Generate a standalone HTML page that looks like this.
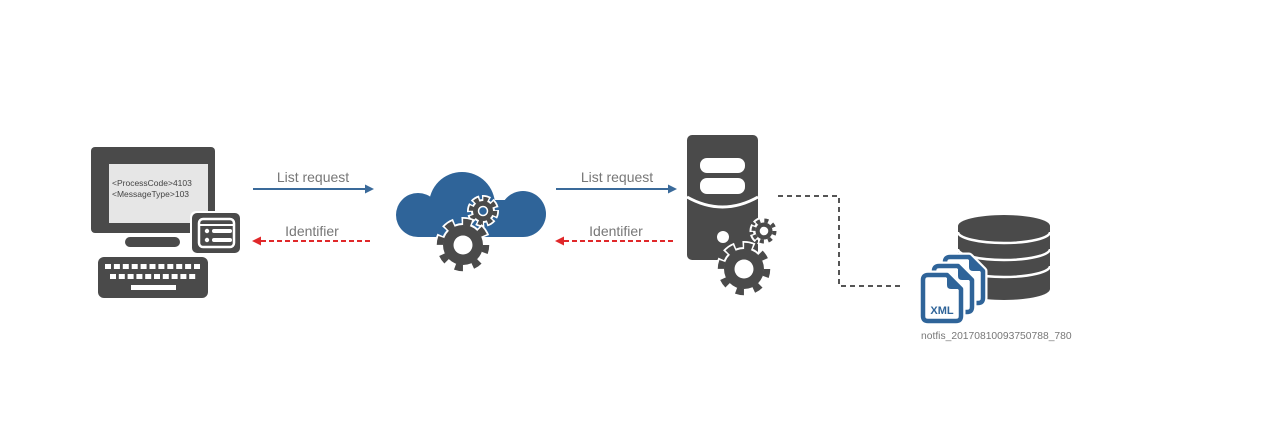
<!DOCTYPE html>
<html>
<head>
<meta charset="utf-8">
<style>
  html,body{margin:0;padding:0;background:#fff;}
  body{width:1280px;height:434px;overflow:hidden;position:relative;}
  svg{position:absolute;left:0;top:0;}
  text{font-family:"Liberation Sans",sans-serif;}
</style>
</head>
<body>
<svg width="1280" height="434" viewBox="0 0 1280 434" xmlns="http://www.w3.org/2000/svg">
  <!-- ============ MONITOR ============ -->
  <rect x="91" y="147" width="124" height="86" rx="4" fill="#4a4a4a"/>
  <rect x="109" y="164" width="99" height="59" fill="#e6e6e6"/>
  <text x="112" y="186" font-size="8.5" fill="#444">&lt;ProcessCode&gt;4103</text>
  <text x="112" y="197" font-size="8.5" fill="#444">&lt;MessageType&gt;103</text>
  <rect x="125" y="237" width="55" height="10" rx="5" fill="#4a4a4a"/>
  <!-- keyboard -->
  <rect x="98" y="257" width="110" height="41" rx="6" fill="#4a4a4a"/>
  <g fill="#fff">
    <rect x="105" y="264" width="6" height="5"/>
    <rect x="113.9" y="264" width="6" height="5"/>
    <rect x="122.8" y="264" width="6" height="5"/>
    <rect x="131.7" y="264" width="6" height="5"/>
    <rect x="140.6" y="264" width="6" height="5"/>
    <rect x="149.5" y="264" width="6" height="5"/>
    <rect x="158.4" y="264" width="6" height="5"/>
    <rect x="167.3" y="264" width="6" height="5"/>
    <rect x="176.2" y="264" width="6" height="5"/>
    <rect x="185.1" y="264" width="6" height="5"/>
    <rect x="194" y="264" width="6" height="5"/>
    <rect x="110" y="274" width="6" height="5"/>
    <rect x="118.8" y="274" width="6" height="5"/>
    <rect x="127.6" y="274" width="6" height="5"/>
    <rect x="136.4" y="274" width="6" height="5"/>
    <rect x="145.2" y="274" width="6" height="5"/>
    <rect x="154" y="274" width="6" height="5"/>
    <rect x="162.8" y="274" width="6" height="5"/>
    <rect x="171.6" y="274" width="6" height="5"/>
    <rect x="180.4" y="274" width="6" height="5"/>
    <rect x="189.2" y="274" width="6" height="5"/>
    <rect x="131" y="285" width="45" height="5"/>
  </g>
  <!-- card overlay -->
  <rect x="190" y="211" width="52" height="44" rx="6" fill="#fff"/>
  <rect x="192" y="213" width="48" height="40" rx="5" fill="#4a4a4a"/>
  <rect x="199" y="219" width="35" height="28" rx="4" fill="none" stroke="#fff" stroke-width="2.5"/>
  <line x1="199" y1="225" x2="234" y2="225" stroke="#fff" stroke-width="2"/>
  <circle cx="207" cy="231" r="2.2" fill="#fff"/>
  <circle cx="207" cy="240" r="2.2" fill="#fff"/>
  <rect x="212" y="229" width="20" height="4" rx="2" fill="#fff"/>
  <rect x="212" y="238" width="20" height="4" rx="2" fill="#fff"/>

  <!-- ============ ARROWS 1 ============ -->
  <text x="313" y="182" font-size="14" fill="#777" text-anchor="middle">List request</text>
  <line x1="253" y1="189" x2="366" y2="189" stroke="#3a6a9a" stroke-width="2"/>
  <polygon points="374,189 365,184.5 365,193.5" fill="#3a6a9a"/>
  <text x="312" y="236" font-size="14" fill="#777" text-anchor="middle">Identifier</text>
  <line x1="261" y1="241" x2="373" y2="241" stroke="#e0282a" stroke-width="2" stroke-dasharray="5 3"/>
  <polygon points="252,241 261,236.5 261,245.5" fill="#e0282a"/>

  <!-- ============ CLOUD ============ -->
  <g fill="#2f6499">
    <circle cx="462" cy="205" r="33"/>
    <circle cx="418" cy="215" r="22"/>
    <circle cx="523" cy="214" r="23"/>
    <rect x="418" y="200" width="105" height="37"/>
  </g>
  <!-- small cloud gear -->
  <g transform="translate(483,211)">
    <circle r="12" fill="#fff"/>
    <circle r="12" fill="none" stroke="#fff" stroke-width="8" stroke-dasharray="7.2 2.225" stroke-dashoffset="1.25"/>
    <circle r="10" fill="#4a4a4a"/>
    <circle r="12" fill="none" stroke="#4a4a4a" stroke-width="4.5" stroke-dasharray="4.7 4.725"/>
    <circle r="4.5" fill="#2f6499" stroke="#fff" stroke-width="1.5"/>
  </g>
  <!-- large cloud gear -->
  <g transform="translate(463,245)">
    <circle r="22" fill="#fff"/>
    <circle r="23" fill="none" stroke="#fff" stroke-width="10" stroke-dasharray="11 7.06" stroke-dashoffset="1.5"/>
    <circle r="20" fill="#4a4a4a"/>
    <circle r="23" fill="none" stroke="#4a4a4a" stroke-width="6.5" stroke-dasharray="8 10.06"/>
    <circle r="9.5" fill="#fff"/>
  </g>

  <!-- ============ ARROWS 2 ============ -->
  <text x="617" y="182" font-size="14" fill="#777" text-anchor="middle">List request</text>
  <line x1="556" y1="189" x2="669" y2="189" stroke="#3a6a9a" stroke-width="2"/>
  <polygon points="677,189 668,184.5 668,193.5" fill="#3a6a9a"/>
  <text x="616" y="236" font-size="14" fill="#777" text-anchor="middle">Identifier</text>
  <line x1="564" y1="241" x2="675" y2="241" stroke="#e0282a" stroke-width="2" stroke-dasharray="5 3"/>
  <polygon points="555,241 564,236.5 564,245.5" fill="#e0282a"/>

  <!-- ============ SERVER ============ -->
  <rect x="687" y="135" width="71" height="125" rx="5" fill="#4a4a4a"/>
  <rect x="700" y="158" width="45" height="15" rx="7" fill="#fff"/>
  <rect x="700" y="178" width="45" height="16" rx="7" fill="#fff"/>
  <path d="M687,197 Q722.5,217 758,197" fill="none" stroke="#fff" stroke-width="3"/>
  <circle cx="723" cy="237" r="6" fill="#fff"/>
  <!-- small server gear -->
  <g transform="translate(764,231)">
    <circle r="11" fill="#fff"/>
    <circle r="10.5" fill="none" stroke="#fff" stroke-width="8" stroke-dasharray="6.2 2.05" stroke-dashoffset="1.1"/>
    <circle r="8.5" fill="#4a4a4a"/>
    <circle r="10.5" fill="none" stroke="#4a4a4a" stroke-width="4" stroke-dasharray="4 4.25"/>
    <circle r="4.3" fill="#fff"/>
  </g>
  <!-- large server gear -->
  <g transform="translate(744,269)">
    <circle r="22" fill="#fff"/>
    <circle r="23" fill="none" stroke="#fff" stroke-width="10" stroke-dasharray="11 7.06" stroke-dashoffset="1.5"/>
    <circle r="20" fill="#4a4a4a"/>
    <circle r="23" fill="none" stroke="#4a4a4a" stroke-width="6.5" stroke-dasharray="8 10.06"/>
    <circle r="9.5" fill="#fff"/>
  </g>

  <!-- ============ DASHED CONNECTOR ============ -->
  <path d="M778,196 H839 V286 H900" fill="none" stroke="#555" stroke-width="2" stroke-dasharray="5 4"/>

  <!-- ============ DATABASE ============ -->
  <path d="M958,226 A46,11 0 0 1 1050,226 V289 A46,11 0 0 1 958,289 Z" fill="#4a4a4a"/>
  <path d="M958,232 A46,11 0 0 0 1050,232" fill="none" stroke="#fff" stroke-width="2.5"/>
  <path d="M958,249 A46,11 0 0 0 1050,249" fill="none" stroke="#fff" stroke-width="2.5"/>
  <path d="M958,266 A46,11 0 0 0 1050,266" fill="none" stroke="#fff" stroke-width="2.5"/>

  <!-- XML pages -->
  <g transform="translate(945,257)">
    <path d="M5,0 H24 L38,14 V41 Q38,46 33,46 H5 Q0,46 0,41 V5 Q0,0 5,0 Z" fill="#fff" stroke="#fff" stroke-width="9" stroke-linejoin="round"/>
    <path d="M5,0 H24 L38,14 V41 Q38,46 33,46 H5 Q0,46 0,41 V5 Q0,0 5,0 Z" fill="#fff" stroke="#2f6499" stroke-width="4.5" stroke-linejoin="round"/>
    <path d="M24,0 V10 Q24,14 28,14 H38 Z" fill="#2f6499"/>
  </g>
  <g transform="translate(934,266)">
    <path d="M5,0 H24 L38,14 V41 Q38,46 33,46 H5 Q0,46 0,41 V5 Q0,0 5,0 Z" fill="#fff" stroke="#fff" stroke-width="9" stroke-linejoin="round"/>
    <path d="M5,0 H24 L38,14 V41 Q38,46 33,46 H5 Q0,46 0,41 V5 Q0,0 5,0 Z" fill="#fff" stroke="#2f6499" stroke-width="4.5" stroke-linejoin="round"/>
    <path d="M24,0 V10 Q24,14 28,14 H38 Z" fill="#2f6499"/>
  </g>
  <g transform="translate(923,275)">
    <path d="M5,0 H24 L38,14 V41 Q38,46 33,46 H5 Q0,46 0,41 V5 Q0,0 5,0 Z" fill="#fff" stroke="#fff" stroke-width="9" stroke-linejoin="round"/>
    <path d="M5,0 H24 L38,14 V41 Q38,46 33,46 H5 Q0,46 0,41 V5 Q0,0 5,0 Z" fill="#fff" stroke="#2f6499" stroke-width="4.5" stroke-linejoin="round"/>
    <path d="M24,0 V10 Q24,14 28,14 H38 Z" fill="#2f6499"/>
    <text x="19" y="39" font-size="11" font-weight="bold" fill="#2f6499" text-anchor="middle">XML</text>
  </g>

  <text x="921" y="339" font-size="10.3" fill="#777">notfis_20170810093750788_780</text>
</svg>
</body>
</html>
